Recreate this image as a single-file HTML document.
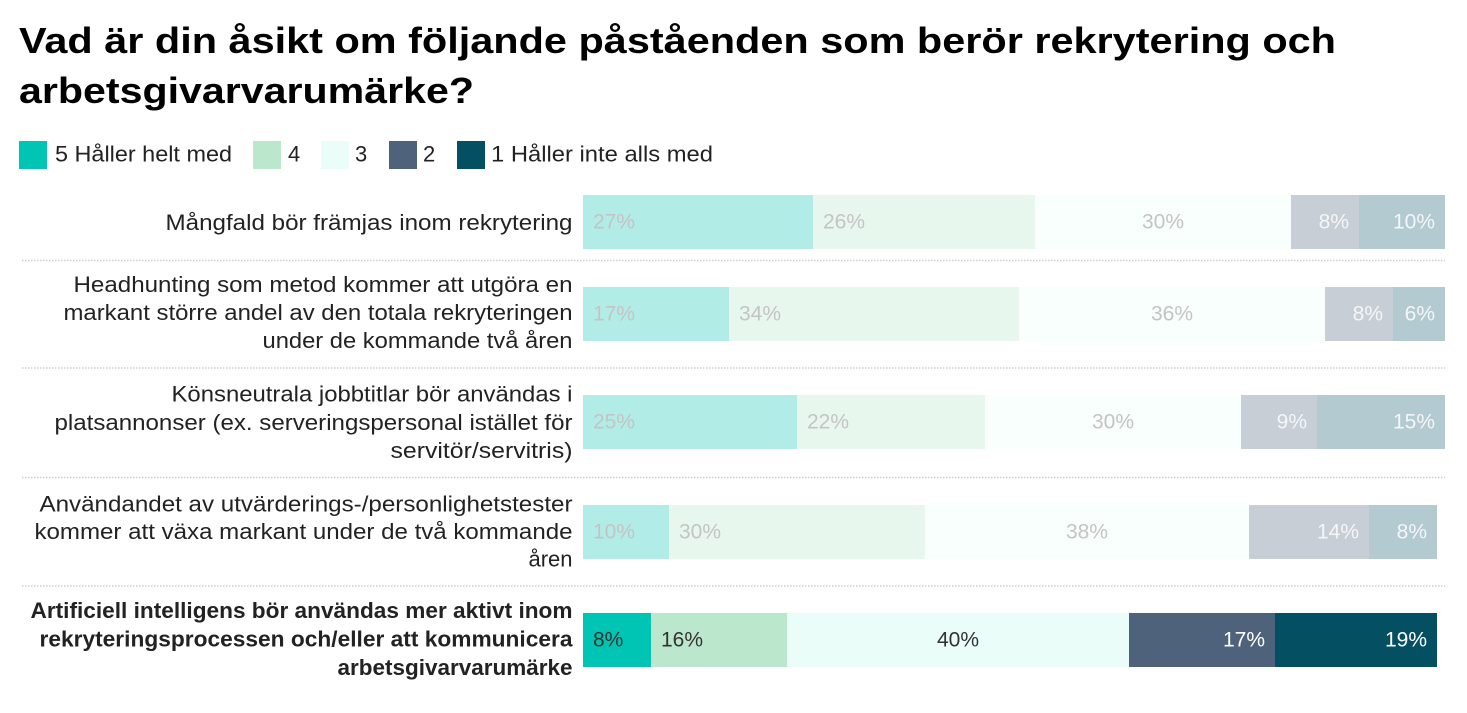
<!DOCTYPE html>
<html><head><meta charset="utf-8"><style>
html,body{margin:0;padding:0;background:#fff;}
svg{display:block;}
text{font-family:"Liberation Sans",Arial,sans-serif;}
</style></head><body>
<svg width="1467" height="713" viewBox="0 0 1467 713" xmlns="http://www.w3.org/2000/svg">
<!-- title -->
<text x="19" y="53" font-size="36" font-weight="bold" fill="#000" textLength="1317" lengthAdjust="spacingAndGlyphs">Vad är din åsikt om följande påståenden som berör rekrytering och</text>
<text x="19" y="103" font-size="36" font-weight="bold" fill="#000" textLength="455" lengthAdjust="spacingAndGlyphs">arbetsgivarvarumärke?</text>
<!-- legend -->
<g font-size="22" fill="#222">
<rect x="19" y="141" width="28" height="28" fill="#00c4b4"/>
<text x="55" y="161.5" textLength="177" lengthAdjust="spacingAndGlyphs">5 Håller helt med</text>
<rect x="253" y="141" width="28" height="28" fill="#bbe8cc"/>
<text x="288" y="161.5">4</text>
<rect x="321" y="141" width="28" height="28" fill="#eafdf8"/>
<text x="355" y="161.5">3</text>
<rect x="389" y="141" width="28" height="28" fill="#4e627c"/>
<text x="423" y="161.5">2</text>
<rect x="457" y="141" width="28" height="28" fill="#044f61"/>
<text x="491" y="161.5" textLength="222" lengthAdjust="spacingAndGlyphs">1 Håller inte alls med</text>
</g>
<!-- separators -->
<g stroke="#cfcfcf" stroke-width="1.5" stroke-dasharray="1.5,1.5">
<line x1="22" y1="260.5" x2="1445" y2="260.5"/>
<line x1="22" y1="368" x2="1445" y2="368"/>
<line x1="22" y1="477.5" x2="1445" y2="477.5"/>
<line x1="22" y1="586" x2="1445" y2="586"/>
</g>
<!-- row labels -->
<g font-size="22" fill="#222" text-anchor="end">
<text x="572.5" y="230" textLength="407" lengthAdjust="spacingAndGlyphs">Mångfald bör främjas inom rekrytering</text>
<text x="572.5" y="292" textLength="499" lengthAdjust="spacingAndGlyphs">Headhunting som metod kommer att utgöra en</text>
<text x="572.5" y="320" textLength="509" lengthAdjust="spacingAndGlyphs">markant större andel av den totala rekryteringen</text>
<text x="572.5" y="348" textLength="310" lengthAdjust="spacingAndGlyphs">under de kommande två åren</text>
<text x="572.5" y="401.5" textLength="401" lengthAdjust="spacingAndGlyphs">Könsneutrala jobbtitlar bör användas i</text>
<text x="572.5" y="430" textLength="518" lengthAdjust="spacingAndGlyphs">platsannonser (ex. serveringspersonal istället för</text>
<text x="572.5" y="458" textLength="182" lengthAdjust="spacingAndGlyphs">servitör/servitris)</text>
<text x="572.5" y="511.5" textLength="533" lengthAdjust="spacingAndGlyphs">Användandet av utvärderings-/personlighetstester</text>
<text x="572.5" y="539" textLength="538" lengthAdjust="spacingAndGlyphs">kommer att växa markant under de två kommande</text>
<text x="572.5" y="566.5" textLength="44" lengthAdjust="spacingAndGlyphs">åren</text>
<g font-weight="bold">
<text x="572.5" y="618" textLength="542" lengthAdjust="spacingAndGlyphs">Artificiell intelligens bör användas mer aktivt inom</text>
<text x="572.5" y="646.5" textLength="533" lengthAdjust="spacingAndGlyphs">rekryteringsprocessen och/eller att kommunicera</text>
<text x="572.5" y="675" textLength="235" lengthAdjust="spacingAndGlyphs">arbetsgivarvarumärke</text>
</g>
</g>
<!-- bars -->
<!-- row 1 -->
<g>
<rect x="583" y="195" width="230" height="54" fill="#b2ece6"/>
<rect x="813" y="195" width="222" height="54" fill="#e7f7ee"/>
<rect x="1035" y="195" width="256" height="54" fill="#f8fffd"/>
<rect x="1291" y="195" width="68" height="54" fill="#c8ced6"/>
<rect x="1359" y="195" width="86" height="54" fill="#b3cad0"/>
</g>
<!-- row 2 -->
<g>
<rect x="583" y="287" width="146" height="54" fill="#b2ece6"/>
<rect x="729" y="287" width="290" height="54" fill="#e7f7ee"/>
<rect x="1019" y="287" width="306" height="54" fill="#f8fffd"/>
<rect x="1325" y="287" width="68" height="54" fill="#c8ced6"/>
<rect x="1393" y="287" width="52" height="54" fill="#b3cad0"/>
</g>
<!-- row 3 -->
<g>
<rect x="583" y="395" width="214" height="54" fill="#b2ece6"/>
<rect x="797" y="395" width="188" height="54" fill="#e7f7ee"/>
<rect x="985" y="395" width="256" height="54" fill="#f8fffd"/>
<rect x="1241" y="395" width="76" height="54" fill="#c8ced6"/>
<rect x="1317" y="395" width="128" height="54" fill="#b3cad0"/>
</g>
<!-- row 4 -->
<g>
<rect x="583" y="505" width="86" height="54" fill="#b2ece6"/>
<rect x="669" y="505" width="256" height="54" fill="#e7f7ee"/>
<rect x="925" y="505" width="324" height="54" fill="#f8fffd"/>
<rect x="1249" y="505" width="120" height="54" fill="#c8ced6"/>
<rect x="1369" y="505" width="68" height="54" fill="#b3cad0"/>
</g>
<!-- row 5 -->
<g>
<rect x="583" y="613" width="68" height="54" fill="#00c4b4"/>
<rect x="651" y="613" width="136" height="54" fill="#bbe8cc"/>
<rect x="787" y="613" width="342" height="54" fill="#eafdf8"/>
<rect x="1129" y="613" width="146" height="54" fill="#4e627c"/>
<rect x="1275" y="613" width="162" height="54" fill="#044f61"/>
</g>
<!-- percent labels -->
<g font-size="21">
<g fill="#c4c4c4">
<text x="593" y="228.5">27%</text>
<text x="823" y="228.5">26%</text>
<text x="1163" y="228.5" text-anchor="middle">30%</text>
<text x="593" y="320.5">17%</text>
<text x="739" y="320.5">34%</text>
<text x="1172" y="320.5" text-anchor="middle">36%</text>
<text x="593" y="428.5">25%</text>
<text x="807" y="428.5">22%</text>
<text x="1113" y="428.5" text-anchor="middle">30%</text>
<text x="593" y="538.5">10%</text>
<text x="679" y="538.5">30%</text>
<text x="1087" y="538.5" text-anchor="middle">38%</text>
</g>
<g fill="#f4f6f8" text-anchor="end">
<text x="1349" y="228.5">8%</text>
<text x="1435" y="228.5">10%</text>
<text x="1383" y="320.5">8%</text>
<text x="1435" y="320.5">6%</text>
<text x="1307" y="428.5">9%</text>
<text x="1435" y="428.5">15%</text>
<text x="1359" y="538.5">14%</text>
<text x="1427" y="538.5">8%</text>
</g>
<g fill="#333">
<text x="593" y="646.5">8%</text>
<text x="661" y="646.5">16%</text>
<text x="958" y="646.5" text-anchor="middle">40%</text>
</g>
<g fill="#fff" text-anchor="end">
<text x="1265" y="646.5">17%</text>
<text x="1427" y="646.5">19%</text>
</g>
</g>
</svg>
</body></html>
